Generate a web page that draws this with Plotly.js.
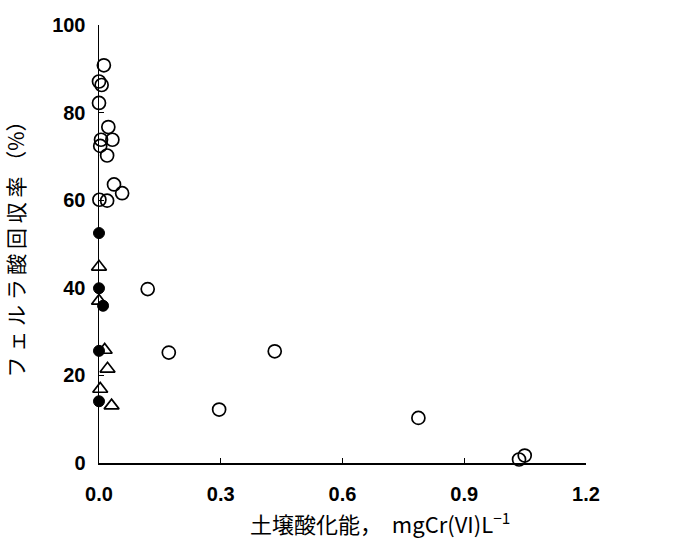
<!DOCTYPE html>
<html>
<head>
<meta charset="utf-8">
<script src="https://cdn.plot.ly/plotly-3.0.1.min.js"></script>
<style>html,body{margin:0;padding:0;background:#fff;}#chart{width:675px;height:540px;}</style>
</head>
<body>
<div id="chart"></div>
<script>
// Open circles
var openX = [0.012, 0.000, 0.0065, 0.000, 0.023, 0.005, 0.003, 0.033, 0.020, 0.037, 0.057, 0.001, 0.020, 0.120, 0.172, 0.433, 0.296, 0.787, 1.035, 1.049];
var openY = [90.8, 87.1, 86.3, 82.2, 76.7, 73.8, 72.4, 73.8, 70.2, 63.6, 61.6, 60.1, 59.9, 39.7, 25.2, 25.5, 12.2, 10.3, 0.8, 1.7];
// Filled circles
var filledX = [0.000, 0.000, 0.010, 0.000, 0.000];
var filledY = [52.5, 39.9, 35.9, 25.6, 14.1];
// Open triangles
var triX = [0.000, 0.000, 0.014, 0.021, 0.003, 0.031];
var triY = [44.8, 37.0, 25.8, 21.5, 16.9, 13.1];

var xTicks = [0, 0.3, 0.6, 0.9, 1.2];
var xTickText = ['0.0', '0.3', '0.6', '0.9', '1.2'];
var yTicks = [0, 20, 40, 60, 80, 100];
var xTitle = '土壌酸化能，  mgCr(VI)L<sup>−1</sup>';
var yTitle = 'フ ェ ル ラ 酸 回 収 率 （%）';

var traces = [
  {x: filledX, y: filledY, mode: 'markers', type: 'scatter', cliponaxis: false,
   marker: {symbol: 'circle', size: 11, color: '#000', line: {color: '#000', width: 1}}},
  {x: triX, y: triY, mode: 'markers', type: 'scatter', cliponaxis: false,
   marker: {symbol: 'triangle-up-open', size: 13, color: '#000', line: {color: '#000', width: 1.7}}},
  {x: openX, y: openY, mode: 'markers', type: 'scatter', cliponaxis: false,
   marker: {symbol: 'circle-open', size: 13, color: '#000', line: {color: '#000', width: 1.7}}}
];

var tickFont = {family: 'Liberation Sans, Arial, sans-serif', size: 20, color: '#000', weight: 'bold'};
var titleFont = {family: 'Noto Sans CJK JP, sans-serif', size: 21, color: '#000'};
var layout = {
  width: 675, height: 540,
  margin: {l: 99, r: 89, t: 25, b: 77},
  paper_bgcolor: '#fff', plot_bgcolor: '#fff',
  showlegend: false,
  xaxis: {
    range: [0, 1.2], tickvals: xTicks, ticktext: xTickText,
    showline: true, linecolor: '#000', linewidth: 1.5, mirror: false,
    ticks: 'inside', ticklen: 5, tickcolor: '#000', tickwidth: 1.2,
    showgrid: false, zeroline: false,
    tickfont: tickFont, ticklabelstandoff: 12
  },
  yaxis: {
    range: [0, 100], tickvals: yTicks,
    showline: true, linecolor: '#000', linewidth: 1.5,
    ticks: 'inside', ticklen: 5, tickcolor: '#000', tickwidth: 1.2,
    showgrid: false, zeroline: false,
    tickfont: tickFont, ticklabelstandoff: 8,
    title: {text: yTitle, font: titleFont, standoff: 22}
  },
  annotations: [{
    text: xTitle, xref: 'paper', yref: 'paper', x: 0.578, y: -0.136,
    xanchor: 'center', yanchor: 'middle', showarrow: false,
    font: {family: 'Noto Sans CJK JP, sans-serif', size: 22, color: '#000'}
  }]
};

Plotly.newPlot('chart', traces, layout, {displayModeBar: false, staticPlot: true});
</script>
</body>
</html>
